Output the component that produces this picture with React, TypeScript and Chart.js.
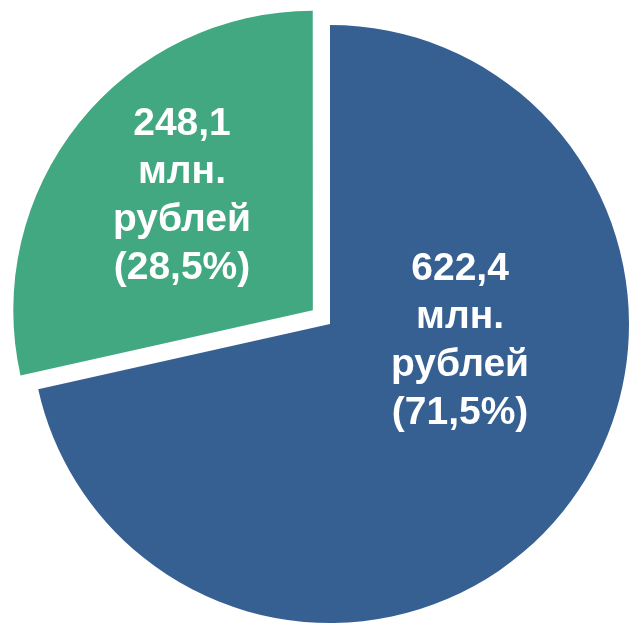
import React, { useEffect, useRef } from "react";
import { Chart, registerables } from "chart.js";

Chart.register(...registerables);

const categories = ["blue", "green"];
const values = [622.4, 248.1];
const percents = ["71,5%", "28,5%"];
const unitLines = ["млн.", "рублей"];
const colors = ["#376092", "#41A882"];
// Chart.js ArcElement moves a slice by offset / 4 pixels
const offsets = [0, 88];

const fmt = (v: number) => v.toFixed(1).replace(".", ",");

const labelPlugin = {
  id: "sliceLabels",
  afterDatasetsDraw(chart: any, _args: any, opts: any) {
    const meta = chart.getDatasetMeta(0);
    const ctx = chart.ctx;
    const anchors = opts.anchors as number[][];
    ctx.save();
    ctx.fillStyle = "#ffffff";
    ctx.font = "bold 39px 'Liberation Sans', Arial, sans-serif";
    ctx.textAlign = "center";
    ctx.textBaseline = "middle";
    meta.data.forEach((arc: any, i: number) => {
      const r = arc.outerRadius;
      const cx = arc.x + anchors[i][0] * r;
      const cy = arc.y + anchors[i][1] * r;
      const lines = [fmt(values[i]), ...unitLines, "(" + percents[i] + ")"];
      const lh = 48;
      const start = cy - ((lines.length - 1) * lh) / 2;
      lines.forEach((t, k) => ctx.fillText(t, cx, start + k * lh));
    });
    ctx.restore();
  },
};

export default function App() {
  const ref = useRef<HTMLCanvasElement>(null);
  useEffect(() => {
    if (!ref.current) return;
    const chart = new Chart(ref.current, {
      type: "pie",
      data: {
        labels: categories,
        datasets: [
          {
            data: values,
            backgroundColor: colors,
            borderWidth: 0,
            offset: offsets,
          },
        ],
      },
      options: {
        responsive: false,
        animation: false,
        radius: 299,
        layout: { padding: { left: 31, top: 24, right: 0, bottom: 0 } },
        plugins: {
          legend: { display: false },
          tooltip: { enabled: false },
          sliceLabels: { anchors: [[0.435, 0.057], [-0.495, -0.428]] },
        } as any,
      },
      plugins: [labelPlugin],
    });
    return () => chart.destroy();
  }, []);
  return (
    <div
      style={{
        position: "fixed",
        left: 0,
        top: 0,
        width: 629,
        height: 624,
        overflow: "hidden",
        background: "#ffffff",
      }}
    >
      <canvas ref={ref} width={629} height={624} />
    </div>
  );
}
